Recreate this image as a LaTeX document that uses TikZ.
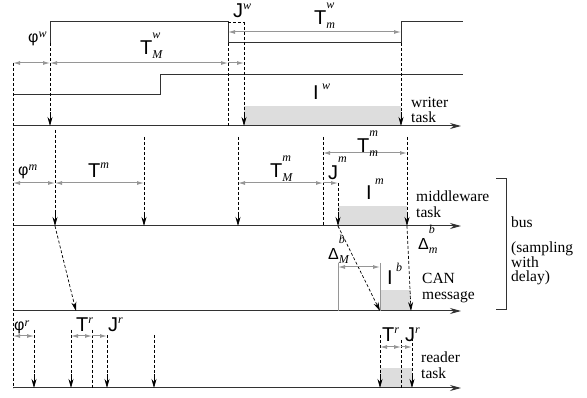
\documentclass[tikz,border=0pt]{standalone}
\usepackage{fontspec}
\setmainfont{Liberation Serif}
\setsansfont{Liberation Sans}
\usepackage{tikz}
\usetikzlibrary{arrows.meta}
\definecolor{sigline}{RGB}{50,50,50}
\definecolor{durline}{RGB}{150,150,150}
\definecolor{busyfill}{RGB}{221,221,221}
\newcommand{\scrfont}{\fontsize{12}{12}\selectfont\rmfamily\itshape}
\newcommand{\tsup}[3][9pt]{#2\raisebox{#1}{\scrfont #3}}
\newcommand{\tboth}[3]{#1\rlap{\raisebox{16pt}{\scrfont #2}}\raisebox{-4pt}{\scrfont #3}}

\begin{document}
\begin{tikzpicture}[x=1pt,y=-1pt,
    sig/.style={draw=sigline, line width=1pt},
    timeaxis/.style={sig, -{Stealth[length=11pt,width=6pt]}},
    rel/.style={draw=black, line width=0.7pt, dash pattern=on 3pt off 2pt},
    relhead/.style={draw=black, line width=0.7pt, -{Stealth[length=9pt,width=5pt]}},
    delay/.style={rel, -{Stealth[length=9pt,width=5pt]}},
    dur/.style={draw=durline, line width=1pt, {Latex[length=7pt,width=4pt]}-{Latex[length=7pt,width=4pt]}},
    durr/.style={draw=durline, line width=1pt, -{Latex[length=7pt,width=4pt]}},
    busy/.style={fill=busyfill},
    sym/.style={font=\sffamily\fontsize{20}{20}\selectfont, inner sep=0pt, anchor=base west},
    greek/.style={sym, font=\sffamily\fontsize{16}{16}\selectfont},
    tasktext/.style={font=\fontsize{15.5}{15.5}\selectfont, align=left, inner sep=0pt, anchor=west}
]
\useasboundingbox (0,0) rectangle (587,398);

\fill[busy] (244,106) rectangle (401,126);
\fill[busy] (338,206) rectangle (407,226);
\fill[busy] (380,290) rectangle (411,311);
\fill[busy] (380,368) rectangle (412,388);

% writer period bounds
\draw[sig] (50,43) -- (50,22) -- (228,22) -- (228,43) -- (401,43) -- (401,22) -- (463,22);
\draw[sig] (13,95) -- (160,95) -- (160,75) -- (463,75);
\draw[rel] (228,22) -- (244,22);

\foreach \y in {126,226,311,388}
  \draw[timeaxis] (13,\y) -- (461,\y);

\draw[rel] (13,63) -- (13,388);

% activations
\foreach \x/\t/\b in {50/43/126, 244/22/126, 401/43/126, 55/130/226, 144/137/226,
    238/137/226, 338/183/226, 407/137/226, 34/330/388, 71/330/388, 107/335/388,
    154/335/388, 380/335/388, 412/333/388}{
  \draw[rel] (\x,\t) -- (\x,\b-14);
  \draw[relhead] (\x,\b-14) -- (\x,\b);
}
\foreach \x/\t/\b in {228/43/126, 323/137/226, 92/330/388, 401/340/388}
  \draw[rel] (\x,\t) -- (\x,\b);

\draw[delay] (55,226) -- (76,311);
\draw[delay] (338,226) -- (380,311);
\draw[delay] (407,226) -- (411,311);

\draw[draw=durline, line width=0.8pt] (338,263) -- (338,311);
\draw[draw=durline, line width=0.8pt] (380,263) -- (380,311);

\draw[dur] (13,63) -- (50,63);
\draw[dur] (50,63) -- (228,63);
\draw[durr] (228,63) -- (244,63);
\draw[dur] (228,32) -- (401,32);
\draw[dur] (13,183) -- (55,183);
\draw[dur] (55,183) -- (144,183);
\draw[dur] (238,183) -- (323,183);
\draw[durr] (323,183) -- (338,183);
\draw[dur] (323,153) -- (407,153);
\draw[dur] (338,267) -- (380,267);
\draw[dur] (13,336) -- (34,336);
\draw[dur] (71,336) -- (92,336);
\draw[durr] (92,336) -- (107,336);
\draw[dur] (380,347) -- (401,347);
\draw[durr] (401,347) -- (412,347);

\node[greek] (phiw) at (28,43) {\tsup[5pt]{φ}{w}};
\node[sym] (tMw) at (140,55) {\tboth{T}{w}{M}};
\node[sym] (jw) at (233,18) {\tsup[8pt]{J}{w}};
\node[sym] (tmw) at (314,25) {\tboth{T}{w}{m}};
\node[sym] (iw) at (313,100) {\tsup[10pt]{I\,}{w}};
\node[greek] (phim) at (18,176) {\tsup[5pt]{φ}{m}};
\node[sym] (tm) at (88,178) {\tsup{T}{m}};
\node[sym] (tMm) at (270,178) {\tboth{T}{m}{M}};
\node[sym] (tmm) at (357,153) {\tboth{T}{m}{m}};
\node[sym] (jm) at (328,180) {\tsup[17pt]{J}{m}};
\node[sym] (im) at (366,200) {\tsup[15pt]{I\,}{m}};
\node[greek] (dMb) at (328,260) {\tboth{Δ}{b}{M}};
\node[greek] (dmb) at (418,250) {\tboth{Δ}{b}{m}};
\node[sym] (ib) at (387,285) {\tsup[13pt]{I\,}{b}};
\node[greek] (phir) at (14,331) {\tsup[5pt]{φ}{r}};
\node[sym] (tr) at (76,332) {\tsup{T}{r}};
\node[sym] (jr) at (108,332) {\tsup{J}{r}};
\node[sym] (tr2) at (382,342) {\tsup{T}{r}};
\node[sym] (jr2) at (405,342) {\tsup{J}{r}};

\node[tasktext] (writer) at (411,110) {writer\\task};
\node[tasktext] (middleware) at (416,204) {middleware\\task};
\node[tasktext] (can) at (422,288) {CAN\\message};
\node[tasktext] (reader) at (421,365) {reader\\task};
\node[tasktext] (bus) at (511,222) {bus};
\node[tasktext, font=\fontsize{15.5}{14}\selectfont] (sampling) at (511,263) {(sampling\\with\\delay)};

\draw[sig] (496,179) -- (506,179) -- (506,310) -- (496,310);

\end{tikzpicture}
\end{document}
